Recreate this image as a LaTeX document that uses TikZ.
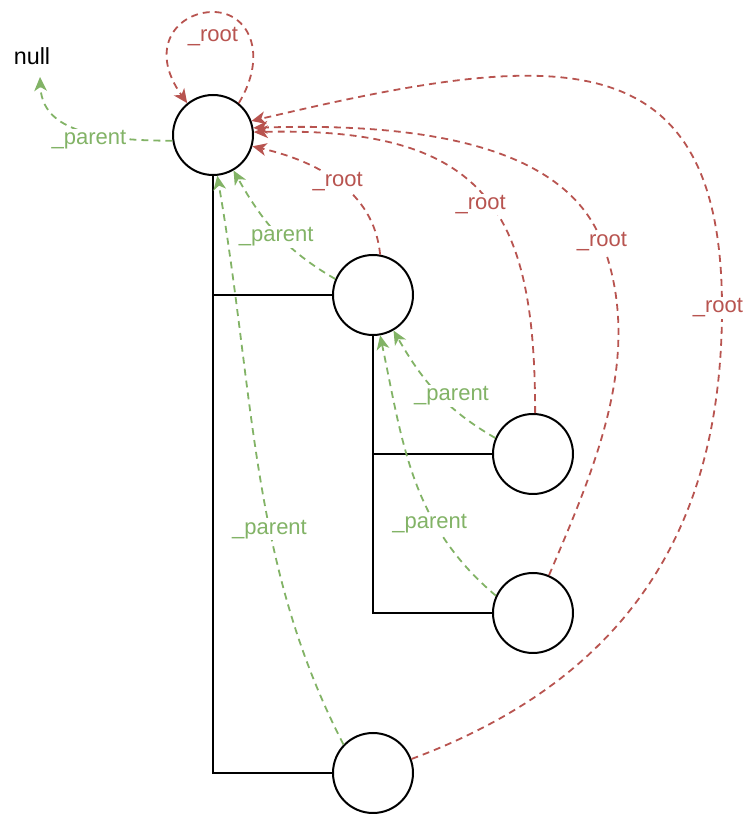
\documentclass[tikz,border=0pt]{standalone}
\usepackage{fontspec}
\setmainfont{Liberation Sans}
\usetikzlibrary{arrows.meta}
\definecolor{rootred}{HTML}{B85450}
\definecolor{parentgreen}{HTML}{82B366}
\begin{document}
\begin{tikzpicture}[x=0.75pt,y=0.75pt,
  item/.style={circle,draw=black,fill=white,line width=1.5pt,minimum size=60pt,inner sep=0pt},
  tree/.style={draw=black,line width=1.5pt},
  link/.style={line width=1.35pt,dash pattern=on 5.2pt off 3.8pt,
    -{Stealth[length=10.5pt,width=9.5pt,inset=3pt]}},
  rootlink/.style={link,draw=rootred},
  parentlink/.style={link,draw=parentgreen},
  lbl/.style={fill=white,inner sep=1pt,font=\fontsize{16.5}{20}\selectfont},
  rootlbl/.style={lbl,text=rootred},
  parentlbl/.style={lbl,text=parentgreen}]
\useasboundingbox (0,0) rectangle (745,814);

% tree nodes
\node[item] (A) at (213,679) {};
\node[item] (B) at (373,519) {};
\node[item] (C) at (533,360) {};
\node[item] (D) at (533,201) {};
\node[item] (E) at (373,41) {};
\node[font=\fontsize{17.5}{21}\selectfont] (null) at (32,758) {null};
\coordinate (nullpt) at (40,737);

% child links
\draw[tree] (A.south) -- (A.south |- E.west) -- (E.west);
\draw[tree] (A.south |- B.west) -- (B.west);
\draw[tree] (B.south) -- (B.south |- D.west) -- (D.west);
\draw[tree] (B.south |- C.west) -- (C.west);

% _root pointers
\draw[rootlink] (A.51) .. controls (269,761) and (248,802) .. (213,802)
  .. controls (178,802) and (147,767) .. (A.129);
\node[rootlbl] (rA) at (213,777) {\_root};
\draw[rootlink] (B.80) .. controls (374,624) and (315.6,653) ..
  node[rootlbl,pos=0.5] (rB) {\_root} (A.-16);
\draw[rootlink] (C.87) .. controls (535,600) and (490,688) ..
  node[rootlbl,pos=0.47,xshift=-7pt] (rC) {\_root} (A.4);
\draw[rootlink] (D.67) .. controls (595.4,348) and (645,460) .. (602,572)
  .. controls (566,665) and (432,692) .. (A.10);
\node[rootlbl] (rD) at (602,572) {\_root};
\draw[rootlink] (E.20) .. controls (640,140) and (722,300) .. (722,506)
  .. controls (722,785) and (545,762) .. (A.20);
\node[rootlbl] (rE) at (718,506) {\_root};

% _parent pointers
\draw[parentlink] (A.188) .. controls (80,673) and (42,690) .. (nullpt);
\node[parentlbl] (pA) at (89,674) {\_parent};
\draw[parentlink] (B.157) .. controls (285,564) and (262,593) ..
  node[parentlbl,pos=0.5,yshift=-3pt] (pB) {\_parent} (A.-60);
\draw[parentlink] (C.157) .. controls (445,405) and (422,434) ..
  node[parentlbl,pos=0.5,xshift=11.5pt,yshift=-3pt] (pC) {\_parent} (B.-60);
\draw[parentlink] (D.155) .. controls (411,290) and (403,370) ..
  node[parentlbl,pos=0.32,xshift=-4pt] (pD) {\_parent} (B.-80);
\draw[parentlink] (E.136) .. controls (250,250) and (255,420) ..
  node[parentlbl,pos=0.4] (pE) {\_parent} (A.-84);
\end{tikzpicture}
\end{document}
